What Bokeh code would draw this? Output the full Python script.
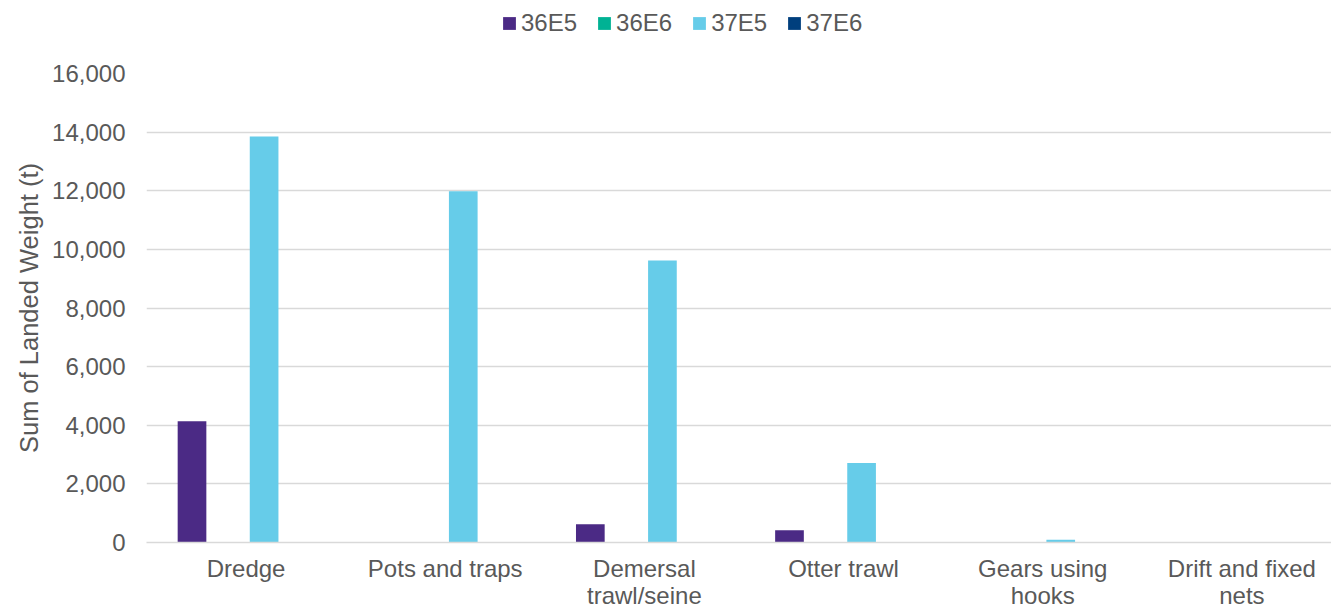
from bokeh.plotting import figure
from bokeh.layouts import column
from bokeh.models import (ColumnDataSource, Range1d, FixedTicker, NumeralTickFormatter,
                          Legend, LegendItem)
from bokeh.transform import dodge
from bokeh.embed import file_html
from bokeh.resources import INLINE

# Landed weight (t) by gear type and ICES rectangle
gears = ["Dredge", "Pots and traps", "Demersal trawl/seine",
         "Otter trawl", "Gears using hooks", "Drift and fixed nets"]
gear_labels = ["Dredge", "Pots and traps", "Demersal\ntrawl/seine",
               "Otter trawl", "Gears using\nhooks", "Drift and fixed\nnets"]
rect_36E5 = [4140, 0, 620, 420, 0, 0]
rect_36E6 = [0, 0, 20, 0, 0, 0]
rect_37E5 = [13850, 11980, 9620, 2710, 90, 5]
rect_37E6 = [0, 0, 0, 0, 0, 0]
y_ticks = [0, 2000, 4000, 6000, 8000, 10000, 12000, 14000, 16000]

series = [("36E5", rect_36E5, "#4B2A85"),
          ("36E6", rect_36E6, "#00B294"),
          ("37E5", rect_37E5, "#66CCE9"),
          ("37E6", rect_37E6, "#003F7D")]

FONT = "Liberation Sans"
TXT = "#595959"
GRID = "#D9D9D9"
FS = "24px"
LEG_H = 46

source = ColumnDataSource(dict(
    x=list(range(len(gears))),
    gear=gears,
    **{name: vals for name, vals, _ in series},
))

# ---- main chart ----
p = figure(width=1331, height=611 - LEG_H, output_backend="svg", toolbar_location=None,
           x_range=Range1d(-0.5, 5.45), y_range=Range1d(0, 16000),
           min_border_left=146, min_border_right=0, min_border_top=73 - LEG_H,
           min_border_bottom=69)
p.outline_line_color = None
p.background_fill_color = "white"
p.border_fill_color = "white"

step = 0.181
width = 0.144
for i, (name, vals, color) in enumerate(series):
    off = (i - 1.5) * step
    p.vbar(x=dodge("x", off), top=name, width=width, source=source,
           fill_color=color, line_color=None)

p.xaxis.ticker = FixedTicker(ticks=list(range(len(gears))))
p.xaxis.major_label_overrides = {i: lab for i, lab in enumerate(gear_labels)}
p.xaxis.major_tick_line_color = None
p.xaxis.minor_tick_line_color = None
p.xaxis.major_tick_out = 0
p.xaxis.major_tick_in = 0
p.xaxis.minor_tick_out = 0
p.xaxis.axis_line_color = GRID
p.xaxis.axis_line_width = 1.5
p.xaxis.major_label_text_font = FONT
p.xaxis.major_label_text_font_size = FS
p.xaxis.major_label_text_color = TXT
p.xaxis.major_label_text_line_height = 1.0
p.xaxis.major_label_standoff = 12

p.yaxis.ticker = FixedTicker(ticks=y_ticks)
p.yaxis.formatter = NumeralTickFormatter(format="0,0")
p.yaxis.axis_line_color = None
p.yaxis.major_tick_line_color = None
p.yaxis.minor_tick_line_color = None
p.yaxis.major_tick_out = 0
p.yaxis.major_tick_in = 0
p.yaxis.minor_tick_out = 0
p.yaxis.major_label_text_font = FONT
p.yaxis.major_label_text_font_size = FS
p.yaxis.major_label_text_color = TXT
p.yaxis.major_label_standoff = 21
p.yaxis.axis_label = "Sum of Landed Weight (t)"
p.yaxis.axis_label_text_font = FONT
p.yaxis.axis_label_text_font_size = "25.5px"
p.yaxis.axis_label_text_font_style = "normal"
p.yaxis.axis_label_text_color = TXT
p.yaxis.axis_label_standoff = 6

p.xgrid.grid_line_color = None
p.ygrid.grid_line_color = GRID
p.ygrid.grid_line_width = 1.5

# ---- legend strip on top (frames are aligned by the column) ----
lf = figure(width=1331, height=LEG_H, output_backend="svg", toolbar_location=None,
            x_range=Range1d(0, 1), y_range=Range1d(0, 1),
            min_border=0, x_axis_type=None, y_axis_type=None)
lf.outline_line_color = None
lf.grid.visible = False
items = []
for name, vals, color in series:
    # swatch renderer: one bar parked outside the visible range
    r = lf.vbar(x=[5], top=[1], width=0.1, fill_color=color, line_color=None)
    items.append(LegendItem(label=name, renderers=[r]))

legend = Legend(items=items, orientation="horizontal", location=(355, 9),
                glyph_width=16, glyph_height=16, label_standoff=4, spacing=19,
                padding=0, margin=0, border_line_color=None,
                background_fill_alpha=0,
                label_text_font=FONT, label_text_font_size=FS,
                label_text_color=TXT)
lf.add_layout(legend, "center")

layout = column(lf, p, spacing=0)
open("out.html", "w").write(file_html(layout, INLINE))
